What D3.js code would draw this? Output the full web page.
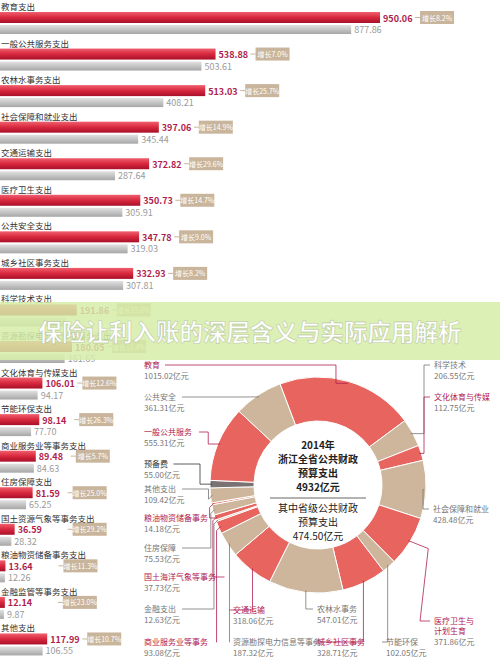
<!DOCTYPE html><html><head><meta charset="utf-8">
<script src="https://cdn.jsdelivr.net/npm/d3@7"></script>
<style>body{margin:0;background:#fff}svg{display:block;font-family:"Noto Sans CJK SC",sans-serif}</style></head><body>
<svg id="c" width="500" height="660"></svg>
<script>
const categories=["教育支出","一般公共服务支出","农林水事务支出","社会保障和就业支出","交通运输支出","医疗卫生支出","公共安全支出","城乡社区事务支出","科学技术支出","资源勘探电力信息等事务支出","文化体育与传媒支出","节能环保支出","商业服务业等事务支出","住房保障支出","国土资源气象等事务支出","粮油物资储备事务支出","金融监管等事务支出","其他支出"];
const values2014=[950.06,538.88,513.03,397.06,372.82,350.73,347.78,332.93,191.86,180.05,106.01,98.14,89.48,81.59,36.59,13.64,12.14,117.99];
const values2013=[877.86,503.61,408.21,345.44,287.64,305.91,319.03,307.81,166.0,161.65,94.17,77.70,84.63,65.25,28.32,12.26,9.87,106.55];
const growth=["增长8.2%","增长7.0%","增长25.7%","增长14.9%","增长29.6%","增长14.7%","增长9.0%","增长8.2%","增长15.6%","增长11.4%","增长12.6%","增长26.3%","增长5.7%","增长25.0%","增长29.2%","增长11.3%","增长23.0%","增长10.7%"];
const pieNames=["教育","科学技术","文化体育与传媒","社会保障和就业","医疗卫生与\n计划生育","节能环保","城乡社区事务","农林水事务","交通运输","资源勘探电力信息等事务","商业服务业等事务","金融支出","国土海洋气象等事务","住房保障","粮油物资储备事务","其他支出","预备费","一般公共服务","公共安全"];
const pieValues=[1015.02,206.55,112.75,428.48,371.86,102.05,328.71,547.01,318.06,187.32,93.08,12.63,37.73,75.53,14.18,109.42,55.00,555.31,361.31];
const pieKind=["r","t","r","t","r","t","r","t","r","t","r","t","r","t","r","t","g","r","t"];
const title="保险让利入账的深层含义与实际应用解析";

const svg=d3.select("#c");
const defs=svg.append("defs");
const g1=defs.append("linearGradient").attr("id","gr").attr("x1",0).attr("x2",0).attr("y1",0).attr("y2",1);
g1.append("stop").attr("offset","0").attr("stop-color","#f0606e");g1.append("stop").attr("offset","0.5").attr("stop-color","#d8283e");g1.append("stop").attr("offset","1").attr("stop-color","#a8102a");
const g2=defs.append("linearGradient").attr("id","gg").attr("x1",0).attr("x2",0).attr("y1",0).attr("y2",1);
g2.append("stop").attr("offset","0").attr("stop-color","#e2e2e2");g2.append("stop").attr("offset","1").attr("stop-color","#a6a6a6");

const x=d3.scaleLinear().domain([0,1000]).range([0,400]);
const y=d3.scaleBand().domain(categories).range([0,658]).paddingInner(0);
const row=svg.selectAll("g.row").data(categories).join("g").attr("class","row").attr("transform",d=>`translate(0,${y(d)})`);
row.append("text").attr("x",1).attr("y",10).attr("font-size",8.5).attr("fill","#333").text(d=>d);
row.append("rect").attr("x",0).attr("y",12).attr("height",11).attr("width",(d,i)=>x(values2014[i])).attr("fill","url(#gr)");
row.append("rect").attr("x",0).attr("y",25).attr("height",9).attr("width",(d,i)=>x(values2013[i])).attr("fill","url(#gg)");
row.append("text").attr("x",(d,i)=>x(values2014[i])+3).attr("y",21.5).attr("font-size",9).attr("font-weight","bold").attr("fill","#b01e4e").text((d,i)=>values2014[i].toFixed(2));
row.append("text").attr("x",(d,i)=>x(values2013[i])+3).attr("y",33).attr("font-size",9).attr("fill","#9a9a9a").text((d,i)=>i==8?"":values2013[i].toFixed(2));
row.each(function(d,i){
  const gx=x(values2014[i])+40+(i>=14&&i<=16?18:0);
  const s=d3.select(this);
  s.append("line").attr("x1",gx-5).attr("x2",gx).attr("y1",17.5).attr("y2",17.5).attr("stroke","#c8b49a");
  s.append("rect").attr("x",gx).attr("y",11).attr("width",34).attr("height",13).attr("fill","#c9b59c");
  s.append("text").attr("x",gx+17).attr("y",20.5).attr("text-anchor","middle").attr("font-size",7).attr("fill","#fff").text(growth[i]);
});

svg.append("rect").attr("x",0).attr("y",302).attr("width",500).attr("height",58).attr("fill","rgba(214,236,168,0.85)");
svg.append("text").attr("x",250).attr("y",341).attr("text-anchor","middle").attr("font-size",23.5).attr("font-weight","bold").attr("fill","#fff").attr("stroke","rgba(120,140,90,0.35)").attr("stroke-width",0.8).text(title);

const cx=318,cy=485,R=108,r0=64;
const dg=svg.append("g").attr("transform",`translate(${cx},${cy})`);
const pie=d3.pie().sort(null).startAngle(-0.36).endAngle(2*Math.PI-0.36);
const arcs=pie(pieValues);
const arc=d3.arc().innerRadius(r0).outerRadius(R);
const col={r:"#e8645f",t:"#cdb69c",g:"#7a7272"};
dg.selectAll("path").data(arcs).join("path").attr("d",arc).attr("fill",(d,i)=>col[pieKind[i]]).attr("stroke","#fff").attr("stroke-width",1);
const ct=[["2014年",-36,1],["浙江全省公共财政",-22,1],["预算支出",-8,1],["4932亿元",6,1],["其中省级公共财政",27,0],["预算支出",41,0],["474.50亿元",55,0]];
dg.selectAll("text.c").data(ct).join("text").attr("class","c").attr("x",0).attr("y",d=>d[1]).attr("text-anchor","middle").attr("font-size",10).attr("font-weight",d=>d[2]?"bold":"normal").attr("fill","#222").text(d=>d[0]);
dg.append("line").attr("x1",-48).attr("x2",48).attr("y1",13).attr("y2",13).attr("stroke","#666");

const labelPos={"教育":[144,368],"公共安全":[144,400],"一般公共服务":[144,435],"预备费":[144,467],"其他支出":[144,492],"粮油物资储备事务":[144,521],"住房保障":[144,551],"国土海洋气象等事务":[144,580],"金融支出":[144,612],"商业服务业等事务":[144,645],"交通运输":[233,613],"资源勘探电力信息等事务":[233,645],"农林水事务":[317,612],"城乡社区事务":[317,645],"节能环保":[386,645],"医疗卫生与\n计划生育":[434,624],"社会保障和就业":[433,512],"文化体育与传媒":[434,400],"科学技术":[434,368]};
arcs.forEach((a,i)=>{
  const n=pieNames[i],p=labelPos[n];
  const lines=n.split("\n");
  const m=(a.startAngle+a.endAngle)/2;
  const ox=cx+Math.sin(m)*(R-2),oy=cy-Math.cos(m)*(R-2);
  const c=pieKind[i]=="r"?"#b02050":(pieKind[i]=="g"?"#333":"#777");
  let pts;
  if(p[0]<200&&p[1]<470){const lx=p[0]+(n.length*8.5)+4;pts=[[lx,p[1]-3],[Math.max(ox-12,lx+4),p[1]-3],[Math.max(ox-12,lx+4),oy],[ox,oy]];}
  else if(p[0]<200){const lx=p[0]+Math.min(n.length*8.5,80)+4;const ex=Math.min(ox-4,lx+60);pts=[[lx,p[1]-3],[ex,p[1]-3],[ex,oy+4],[ox,oy]];}
  else if(p[0]>425&&p[1]<600){pts=[[p[0]-4,p[1]-3],[p[0]-10,p[1]-3],[p[0]-10,oy],[ox,oy]];}
  else if(p[0]>425){pts=[[p[0]-4,p[1]-3],[p[0]-14,p[1]-3],[ox+20,oy+8],[ox,oy]];}
  else {pts=[[p[0]-4,p[1]-3],[ox,p[1]-3],[ox,oy]];}
  svg.append("polyline").attr("points",pts.map(q=>q.join(",")).join(" ")).attr("fill","none").attr("stroke",c).attr("stroke-width",0.8);
  lines.forEach((t,k)=>svg.append("text").attr("x",p[0]).attr("y",p[1]+k*10).attr("font-size",8).attr("fill",c).text(t));
  svg.append("text").attr("x",p[0]).attr("y",p[1]+11+(lines.length-1)*10).attr("font-size",8).attr("fill","#777").text(pieValues[i].toFixed(2)+"亿元");
});
</script></body></html>
